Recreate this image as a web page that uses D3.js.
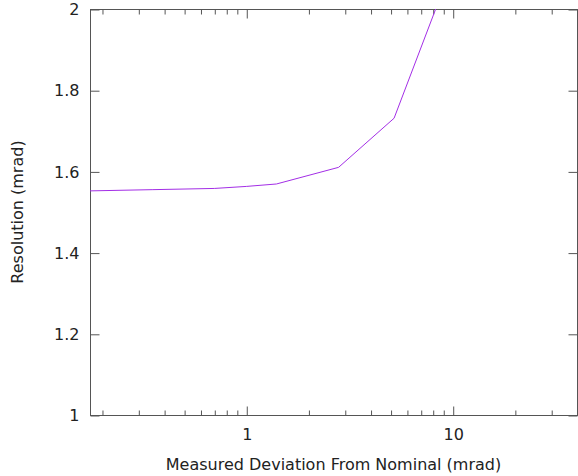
<!DOCTYPE html>
<html>
<head>
<meta charset="utf-8">
<script src="https://cdn.jsdelivr.net/npm/d3@7"></script>
<style>
  body { margin: 0; background: #fff; }
  svg { display: block; }
  svg text { font-family: 'DejaVu Sans', sans-serif; font-size: 16px; fill: #222; }
</style>
</head>
<body>
<svg id="main" width="578" height="476"></svg>
<script>
// deviation from nominal (mrad) and resolution (mrad)
const deviation = [0.175, 0.35, 0.7, 1.0, 1.4, 2.8, 5.2, 10];
const resolution = [1.552, 1.555, 1.558, 1.563, 1.569, 1.610, 1.731, 2.11];

const xMajor = [1, 10];
const xMinor = [0.2, 0.3, 0.4, 0.5, 0.6, 0.7, 0.8, 0.9, 2, 3, 4, 5, 6, 7, 8, 9, 20, 30, 40];
const yTicks = [1, 1.2, 1.4, 1.6, 1.8, 2];

const svg = d3.select('svg#main');
const mLeft = 90, mRight = 577, mTop = 9, mBottom = 415;
const width = mRight - mLeft;
const height = mBottom - mTop;

const xScale = d3.scaleLog().domain([0.175, 40]).range([0, width]);
const yScale = d3.scaleLinear().domain([1, 2]).range([height, 0]);

const chart = svg.append('g')
  .attr('transform', `translate(${mLeft}, ${mTop})`);

svg.append('defs').append('clipPath').attr('id', 'clip')
  .append('rect').attr('width', width).attr('height', height);

// frame
chart.append('rect')
  .attr('x', 0.5).attr('y', 0.5)
  .attr('width', width).attr('height', height)
  .attr('fill', 'none')
  .attr('stroke', '#555');

const styleAxis = g => {
  g.select('.domain').remove();
  g.selectAll('.tick line').attr('stroke', '#555');
};

// x axis bottom, major + minor
chart.append('g')
  .attr('transform', `translate(0.5, ${height + 0.5})`)
  .call(d3.axisBottom(xScale).tickValues(xMajor).tickSize(-9).tickPadding(13).tickFormat(d3.format('d')))
  .call(styleAxis);
chart.append('g')
  .attr('transform', `translate(0.5, ${height + 0.5})`)
  .call(d3.axisBottom(xScale).tickValues(xMinor).tickSize(-5).tickFormat(''))
  .call(styleAxis);

// x axis top (mirror)
chart.append('g')
  .attr('transform', 'translate(0.5, 0.5)')
  .call(d3.axisTop(xScale).tickValues(xMajor).tickSize(-9).tickFormat(''))
  .call(styleAxis);
chart.append('g')
  .attr('transform', 'translate(0.5, 0.5)')
  .call(d3.axisTop(xScale).tickValues(xMinor).tickSize(-5).tickFormat(''))
  .call(styleAxis);

// y axis left + right mirror
chart.append('g')
  .attr('transform', 'translate(0.5, 0.5)')
  .call(d3.axisLeft(yScale).tickValues(yTicks).tickSize(-9).tickPadding(11).tickFormat(d3.format('')))
  .call(styleAxis);
chart.append('g')
  .attr('transform', `translate(${width + 0.5}, 0.5)`)
  .call(d3.axisRight(yScale).tickValues(yTicks).tickSize(-9).tickFormat(''))
  .call(styleAxis);

// data line
const line = d3.line()
  .x((d, i) => xScale(deviation[i]))
  .y(d => yScale(d));

chart.append('path')
  .datum(resolution)
  .attr('clip-path', 'url(#clip)')
  .attr('fill', 'none')
  .attr('stroke', '#a32ee6')
  .attr('stroke-width', 1)
  .attr('d', line);

// labels
svg.append('text')
  .attr('x', (mLeft + mRight) / 2)
  .attr('y', 470)
  .attr('text-anchor', 'middle')
  .text('Measured Deviation From Nominal (mrad)');

svg.append('text')
  .attr('transform', `translate(23, ${(mTop + mBottom) / 2}) rotate(-90)`)
  .attr('text-anchor', 'middle')
  .text('Resolution (mrad)');
</script>
</body>
</html>
